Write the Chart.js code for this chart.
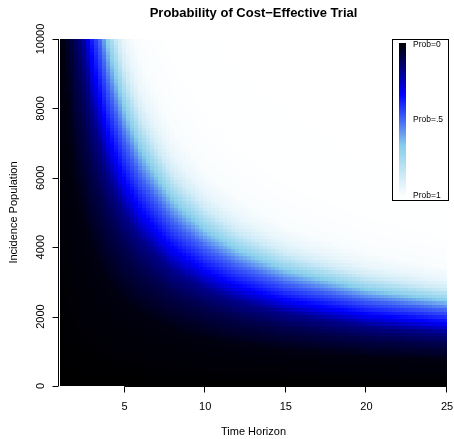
<!DOCTYPE html>
<html>
<head>
<meta charset="utf-8">
<script src="https://cdn.jsdelivr.net/npm/chart.js@4.4.0/dist/chart.umd.min.js"></script>
<style>
  html, body { margin: 0; padding: 0; background: #fff; }
  #wrap { width: 454px; height: 439px; }
</style>
</head>
<body>
<div id="wrap"><canvas id="grafica"></canvas></div>
<script>
// incidencia donde la prob. llega a 0.5, leida por horizonte
const timeHorizon = [1, 2, 3, 4, 5, 6, 8, 10, 12, 15, 20, 25];
const midIncidence = [32560, 16680, 11380, 8740, 7160, 6110, 4800, 4010, 3500, 2990, 2490, 2200];
// perfil de una columna: incidencia / incidencia(0.5) -> probabilidad
const ratioToMid = [0, 0.34, 0.56, 0.70, 0.80, 0.90, 1.0, 1.09, 1.17, 1.28, 1.39, 1.56, 2.0, 4.0];
const probAtRatio = [0, 0.02, 0.10, 0.18, 0.30, 0.40, 0.50, 0.62, 0.73, 0.87, 0.94, 0.985, 0.998, 1];
// rejilla de la imagen
const horizonStep = 0.25;
const incidenceStep = 100;
// ejes
const xTicks = [5, 10, 15, 20, 25];
const yTicks = [0, 2000, 4000, 6000, 8000, 10000];
const legendLabels = ['Prob=0', 'Prob=.5', 'Prob=1'];

const FONT = '"Liberation Sans", Arial, Helvetica, sans-serif';
// paleta negro -> azul -> skyblue -> blanco
const paleta = [[0, 0, 0], [0, 0, 255], [135, 206, 235], [255, 255, 255]];

function interp(xs, ys, x) {
    if (x <= xs[0]) return ys[0];
    for (let i = 1; i < xs.length; i++) {
        if (x <= xs[i]) {
            const t = (x - xs[i - 1]) / (xs[i] - xs[i - 1]);
            return ys[i - 1] + t * (ys[i] - ys[i - 1]);
        }
    }
    return ys[ys.length - 1];
}

function colorProb(p) {
    const s = Math.max(0, Math.min(1, p)) * (paleta.length - 1);
    const i = Math.min(paleta.length - 2, Math.floor(s));
    const t = s - i;
    const c = paleta[i].map((v, k) => Math.round(v + t * (paleta[i + 1][k] - v)));
    return 'rgb(' + c.join(',') + ')';
}

// celdas
const celdas = [];
const logMid = midIncidence.map(v => Math.log(v));
for (let h = 1; h <= 25 + 1e-9; h += horizonStep) {
    const mid = Math.exp(interp(timeHorizon, logMid, h));
    for (let n = 0; n <= 10000; n += incidenceStep) {
        celdas.push({ x: h, y: n, p: interp(ratioToMid, probAtRatio, n / mid) });
    }
}

const heatPlugin = {
    id: 'heat',
    beforeDatasetsDraw(chart) {
        const { ctx, chartArea: a, scales: { x, y } } = chart;
        ctx.save();
        ctx.beginPath();
        ctx.rect(a.left, a.top, a.right - a.left, a.bottom - a.top);
        ctx.clip();
        chart.data.datasets[0].data.forEach(c => {
            const x0 = Math.floor(x.getPixelForValue(c.x - horizonStep / 2));
            const x1 = Math.ceil(x.getPixelForValue(c.x + horizonStep / 2));
            const y0 = Math.floor(y.getPixelForValue(c.y + incidenceStep / 2));
            const y1 = Math.ceil(y.getPixelForValue(c.y - incidenceStep / 2));
            ctx.fillStyle = colorProb(c.p);
            ctx.fillRect(x0, y0, x1 - x0, y1 - y0);
        });
        ctx.restore();
    },
    afterDraw(chart) {
        const { ctx, chartArea: a, scales: { x, y } } = chart;
        ctx.save();
        ctx.strokeStyle = '#000';
        ctx.fillStyle = '#000';
        ctx.lineWidth = 1;

        // eje x
        const yb = a.bottom + 0.5;
        ctx.beginPath();
        ctx.moveTo(x.getPixelForValue(xTicks[0]), yb);
        ctx.lineTo(x.getPixelForValue(xTicks[xTicks.length - 1]), yb);
        xTicks.forEach(v => {
            const px = Math.round(x.getPixelForValue(v)) - 0.5;
            ctx.moveTo(px, yb);
            ctx.lineTo(px, yb + 6);
        });
        ctx.stroke();
        ctx.font = '11px ' + FONT;
        ctx.textAlign = 'center';
        ctx.textBaseline = 'middle';
        xTicks.forEach(v => ctx.fillText(String(v), x.getPixelForValue(v), a.bottom + 21));

        // eje y
        const xl = a.left - 1.5;
        ctx.beginPath();
        ctx.moveTo(xl, y.getPixelForValue(yTicks[0]));
        ctx.lineTo(xl, y.getPixelForValue(yTicks[yTicks.length - 1]));
        yTicks.forEach(v => {
            const py = Math.round(y.getPixelForValue(v)) + 0.5;
            ctx.moveTo(xl, py);
            ctx.lineTo(xl - 6, py);
        });
        ctx.stroke();
        yTicks.forEach(v => {
            ctx.save();
            ctx.translate(a.left - 19, y.getPixelForValue(v));
            ctx.rotate(-Math.PI / 2);
            ctx.fillText(String(v), 0, 0);
            ctx.restore();
        });

        // titulos
        const cx = (a.left + a.right) / 2;
        ctx.fillText('Time Horizon', cx, a.bottom + 46);
        ctx.save();
        ctx.translate(14, (a.top + a.bottom) / 2);
        ctx.rotate(-Math.PI / 2);
        ctx.fillText('Incidence Population', 0, 0);
        ctx.restore();
        ctx.font = 'bold 13px ' + FONT;
        ctx.fillText('Probability of Cost\u2212Effective Trial', cx, 13);

        // leyenda
        const bx = a.right - 54.5, by = a.top + 0.5, bw = 56, bh = 161;
        ctx.fillStyle = '#fff';
        ctx.fillRect(bx, by, bw, bh);
        ctx.strokeRect(bx, by, bw, bh);
        const gy0 = by + 3.5, gy1 = by + bh - 3.5;
        const grad = ctx.createLinearGradient(0, gy0, 0, gy1);
        paleta.forEach((c, i) => grad.addColorStop(i / (paleta.length - 1), 'rgb(' + c.join(',') + ')'));
        ctx.fillStyle = grad;
        ctx.fillRect(bx + 6.5, gy0, 7, gy1 - gy0);
        ctx.fillStyle = '#000';
        ctx.font = '8.5px ' + FONT;
        ctx.textAlign = 'left';
        ctx.fillText(legendLabels[0], bx + 20.5, gy0 + 2);
        ctx.fillText(legendLabels[1], bx + 20.5, (gy0 + gy1) / 2);
        ctx.fillText(legendLabels[2], bx + 20.5, gy1 - 1);
        ctx.restore();
    }
};

new Chart(document.getElementById('grafica'), {
    type: 'scatter',
    data: {
        datasets: [{
            label: 'Probabilidad',
            data: celdas,
            pointRadius: 0,
            pointHoverRadius: 0
        }]
    },
    options: {
        responsive: true,
        maintainAspectRatio: false,
        animation: false,
        events: [],
        layout: { padding: { left: 60, right: 7, top: 39, bottom: 53 } },
        plugins: { legend: { display: false }, tooltip: { enabled: false } },
        scales: {
            x: { type: 'linear', min: 1, max: 25, display: false },
            y: { type: 'linear', min: 0, max: 10000, display: false }
        }
    },
    plugins: [heatPlugin]
});
</script>
</body>
</html>
